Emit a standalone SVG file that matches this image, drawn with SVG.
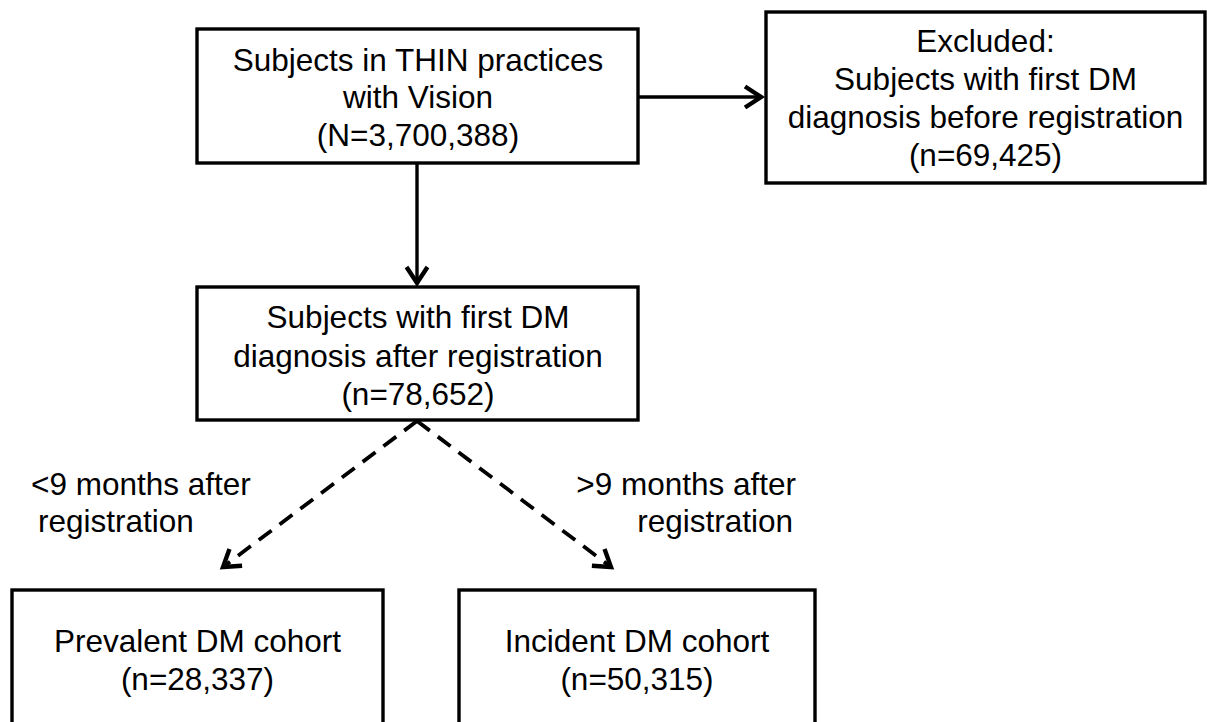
<svg xmlns="http://www.w3.org/2000/svg" width="1207" height="722" viewBox="0 0 1207 722">
<style>
.box{fill:#fff;stroke:#000;stroke-width:3.4}
.t{font-family:"Liberation Sans",Arial,sans-serif;font-size:31.5px;fill:#000;text-anchor:middle}
.l{font-family:"Liberation Sans",Arial,sans-serif;font-size:31.5px;fill:#000}
.c{fill:none;stroke:#000;stroke-width:3.4}
.d{fill:none;stroke:#000;stroke-width:3.8;stroke-dasharray:16 10}
</style>
<defs>
<marker id="ah" markerUnits="userSpaceOnUse" markerWidth="34" markerHeight="34" viewBox="-22 -17 34 34" refX="0" refY="0" orient="auto">
<path d="M-16,-10.5 L0,0 L-16,10.5" fill="none" stroke="#000" stroke-width="4.4" stroke-linejoin="miter"/>
</marker>
</defs>
<rect width="1207" height="722" fill="#fff"/>
<g id="connectors">
<line class="c" x1="638" y1="97" x2="761" y2="97" marker-end="url(#ah)"/>
<line class="c" x1="417" y1="163" x2="417" y2="283" marker-end="url(#ah)"/>
<line class="d" x1="417" y1="421" x2="223" y2="567" marker-end="url(#ah)"/>
<line class="d" x1="417" y1="421" x2="611" y2="567" marker-end="url(#ah)"/>
</g>
<g id="node-thin">
<rect class="box" x="197" y="29" width="441" height="134"/>
<text class="t" x="418" y="70.5">Subjects in THIN practices</text>
<text class="t" x="418" y="108">with Vision</text>
<text class="t" x="418" y="146">(N=3,700,388)</text>
</g>
<g id="node-excluded">
<rect class="box" x="766" y="12" width="439" height="171"/>
<text class="t" x="985.5" y="52">Excluded:</text>
<text class="t" x="985.5" y="90">Subjects with first DM</text>
<text class="t" x="985.5" y="128">diagnosis before registration</text>
<text class="t" x="985.5" y="166">(n=69,425)</text>
</g>
<g id="node-after">
<rect class="box" x="197" y="287" width="441" height="133"/>
<text class="t" x="418" y="328">Subjects with first DM</text>
<text class="t" x="418" y="366.5">diagnosis after registration</text>
<text class="t" x="418" y="405">(n=78,652)</text>
</g>
<g id="label-lt9">
<text class="l" x="31" y="495">&lt;9 months after</text>
<text class="l" x="38" y="532">registration</text>
</g>
<g id="label-gt9">
<text class="l" x="796" y="495" text-anchor="end">&gt;9 months after</text>
<text class="l" x="793" y="532" text-anchor="end">registration</text>
</g>
<g id="node-prevalent">
<rect class="box" x="12" y="590" width="371" height="140"/>
<text class="t" x="197.5" y="652">Prevalent DM cohort</text>
<text class="t" x="197.5" y="690">(n=28,337)</text>
</g>
<g id="node-incident">
<rect class="box" x="459" y="590" width="356" height="140"/>
<text class="t" x="637" y="652">Incident DM cohort</text>
<text class="t" x="637" y="690">(n=50,315)</text>
</g>
</svg>
